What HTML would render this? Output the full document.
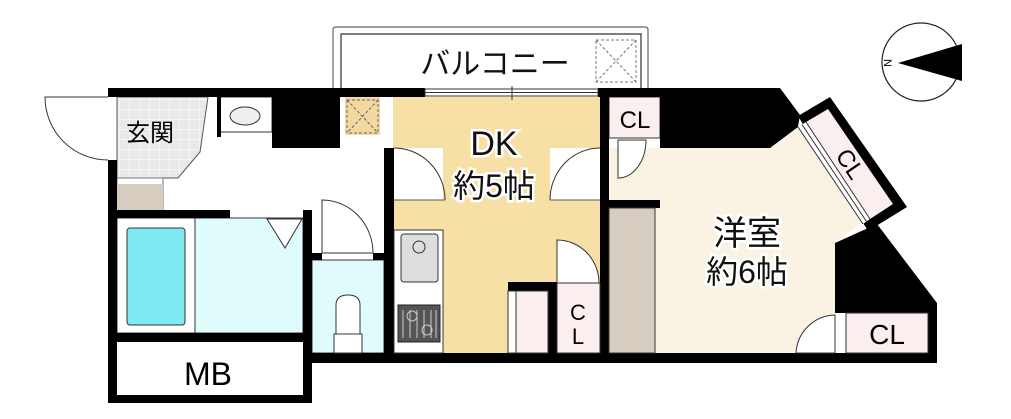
<!DOCTYPE html>
<html><head><meta charset="utf-8"><style>
html,body{margin:0;padding:0;background:#fff;}
svg{display:block;}
text{font-family:"Liberation Sans","Noto Sans CJK JP",sans-serif;}
</style></head><body>
<svg width="1011" height="419" viewBox="0 0 1011 419" xmlns="http://www.w3.org/2000/svg">
<defs>
<pattern id="tile" width="10" height="10" patternUnits="userSpaceOnUse">
<rect width="10" height="10" fill="#e9e9e9"/><path d="M10 0V10M0 10H10" stroke="#fff" stroke-width="1"/>
</pattern>
</defs>
<path d="M333 88V30Q333 27 336 27H645Q648 27 648 30V88" fill="#fff" stroke="#666" stroke-width="1.2"/>
<path d="M341 88V34H641V88" fill="none" stroke="#333" stroke-width="1.2"/>
<text x="495" y="74" font-size="30" text-anchor="middle" fill="#111">バルコニー</text>
<rect x="596" y="40" width="40" height="42" fill="none" stroke="#777" stroke-dasharray="3,2"/>
<path d="M596 40L636 82M636 40L596 82" stroke="#777" stroke-dasharray="3,2"/>
<circle cx="921" cy="62" r="39" fill="#fff" stroke="#222" stroke-width="1.2"/>
<path d="M898 63L962 44L962 81Z" fill="#000"/>
<text x="888" y="67" font-size="11" transform="rotate(90 888 63)" text-anchor="middle">N</text>
<rect x="393" y="97" width="207" height="258" fill="#f6e0a6"/>
<polygon points="609,148 770,148 798,127 863,222 835,243 835,353 609,353" fill="#faf3e3"/>
<rect x="609" y="97" width="51" height="41" fill="#fbeeee" stroke="#333"/>
<text x="635" y="128" font-size="24" text-anchor="middle">CL</text>
<rect x="312" y="260" width="72" height="93" fill="#dffbfc" stroke="#333"/>
<rect x="195" y="218" width="108" height="115" fill="#dffbfc" stroke="#333"/>
<rect x="117" y="218" width="78" height="115" fill="#fff" stroke="#333"/>
<rect x="127" y="228" width="58" height="97" rx="3" fill="#80e9f2" stroke="#333"/>
<path d="M267 219L302 219L285 248Z" fill="#fff" stroke="#333"/>
<rect x="117" y="342" width="186" height="53" fill="#fff"/>
<text x="208" y="385" font-size="32" text-anchor="middle">MB</text>
<polygon points="117,97 208,97 200,152 178,178 117,178" fill="url(#tile)" stroke="#555"/>
<text x="150" y="141" font-size="24" text-anchor="middle">玄関</text>
<rect x="117" y="178" width="46" height="32" fill="#fff" stroke="#777"/>
<rect x="117" y="184" width="46" height="26" fill="#d6ccc0"/>
<path d="M108 97H45A63 63 0 0 0 108 160" fill="#fff" stroke="#333"/>
<rect x="220" y="97" width="52" height="35" fill="#fff" stroke="#333"/>
<ellipse cx="245" cy="116" rx="15" ry="9" fill="#eee" stroke="#333"/>
<g fill="#000">
<rect x="108" y="88" width="317" height="9"/>
<rect x="108" y="160" width="9" height="243"/>
<rect x="108" y="395" width="204" height="8"/>
<rect x="108" y="210" width="122" height="8"/>
<rect x="303" y="210" width="9" height="193"/>
<rect x="108" y="333" width="204" height="9"/>
<rect x="217" y="97" width="4" height="40"/>
<rect x="272" y="88" width="68" height="60"/>
<rect x="312" y="253" width="10" height="7"/>
<rect x="373" y="253" width="20" height="7"/>
<rect x="384" y="148" width="10" height="215"/>
<rect x="312" y="353" width="625" height="10"/>
<rect x="600" y="88" width="9" height="275"/>
<rect x="609" y="200" width="51" height="8"/>
<rect x="508" y="282" width="50" height="9"/>
<rect x="548" y="282" width="9" height="71"/>
<rect x="928" y="313" width="9" height="40"/>
<polygon points="598,88 780,88 800,115 798,127 770,148 660,148 660,97 598,97"/>
<polygon points="835,243 877,224 937,303 937,313 835,313"/>
</g>
<rect x="425" y="89" width="173" height="7" fill="#fff" stroke="#333"/>
<line x1="425" y1="92.5" x2="598" y2="92.5" stroke="#333"/>
<line x1="512" y1="86" x2="512" y2="100" stroke="#333"/>
<rect x="345" y="97" width="35" height="38" fill="#f3d9a0"/>
<rect x="347" y="100" width="31" height="33" fill="none" stroke="#666" stroke-dasharray="3,2"/>
<path d="M347 100L378 133M378 100L347 133" stroke="#666" stroke-dasharray="3,2"/>
<polygon points="798,116 830,97 907,207 868,231" fill="#000"/>
<polygon points="806,122 828,109 893,204 870,219" fill="#fbeeee"/>
<polygon points="798,127 806,122 870,219 863,224" fill="#fff"/>
<line x1="798" y1="127" x2="863" y2="224" stroke="#333"/>
<line x1="802" y1="124.5" x2="866.5" y2="221.5" stroke="#333"/>
<line x1="806" y1="122" x2="870" y2="219" stroke="#333"/>
<text x="850" y="172" font-size="24" text-anchor="middle" transform="rotate(56 850 164)">CL</text>
<rect x="846" y="313" width="82" height="40" fill="#fbeeee" stroke="#333"/>
<text x="887" y="344" font-size="28" text-anchor="middle">CL</text>
<path d="M835 353V315A40 40 0 0 0 796 353Z" fill="#fff" stroke="#333"/>
<rect x="609" y="208" width="46" height="145" fill="#d6ccc0" stroke="#333"/>
<path d="M618 140V178A28 38 0 0 0 646 140Z" fill="#fff" stroke="#333"/>
<rect x="394" y="148" width="49" height="52" fill="#fff"/>
<path d="M394 148A51 52 0 0 1 445 200" fill="none" stroke="#333"/>
<line x1="394" y1="200" x2="445" y2="200" stroke="#555"/>
<rect x="550" y="148" width="50" height="52" fill="#fff"/>
<path d="M600 148A50 52 0 0 0 550 200" fill="none" stroke="#333"/>
<line x1="550" y1="200" x2="600" y2="200" stroke="#555"/>
<path d="M322 253V200A51 53 0 0 1 373 253Z" fill="#fff" stroke="#333"/>
<path d="M336 338V305Q336 295 348 295Q360 295 360 305V338Z" fill="#fff" stroke="#333"/>
<rect x="334" y="334" width="28" height="19" fill="#fff" stroke="#333"/>
<rect x="394" y="230" width="49" height="123" fill="#fff" stroke="#333"/>
<rect x="401" y="234" width="37" height="48" rx="3" fill="#ddd" stroke="#333"/>
<circle cx="419" cy="247" r="6" fill="none" stroke="#333"/>
<rect x="398" y="305" width="42" height="37" fill="#555" stroke="#222"/>
<g stroke="#ccc" fill="none"><circle cx="412" cy="316" r="5"/><circle cx="427" cy="330" r="5"/><path d="M403 310V338M410 310V338M417 310V338M424 310V338M431 310V338M436 310V338"/></g>
<rect x="508" y="291" width="40" height="62" fill="#fbeeee" stroke="#333"/>
<rect x="508" y="291" width="8" height="62" fill="#fff" stroke="#333"/>
<rect x="557" y="283" width="43" height="70" fill="#fbeeee" stroke="#333"/>
<path d="M557 283V240A42 43 0 0 1 599 283Z" fill="#fff" stroke="#333"/>
<text x="578" y="320" font-size="22" text-anchor="middle">C</text>
<text x="578" y="344" font-size="22" text-anchor="middle">L</text>
<g font-size="34" text-anchor="middle" fill="#111" stroke="#fff" stroke-width="5" paint-order="stroke">
<text x="494" y="155">DK</text>
<text x="494" y="197" font-size="32">約5帖</text>
<text x="747" y="245">洋室</text>
<text x="747" y="283" font-size="32">約6帖</text>
</g>
</svg>
</body></html>
